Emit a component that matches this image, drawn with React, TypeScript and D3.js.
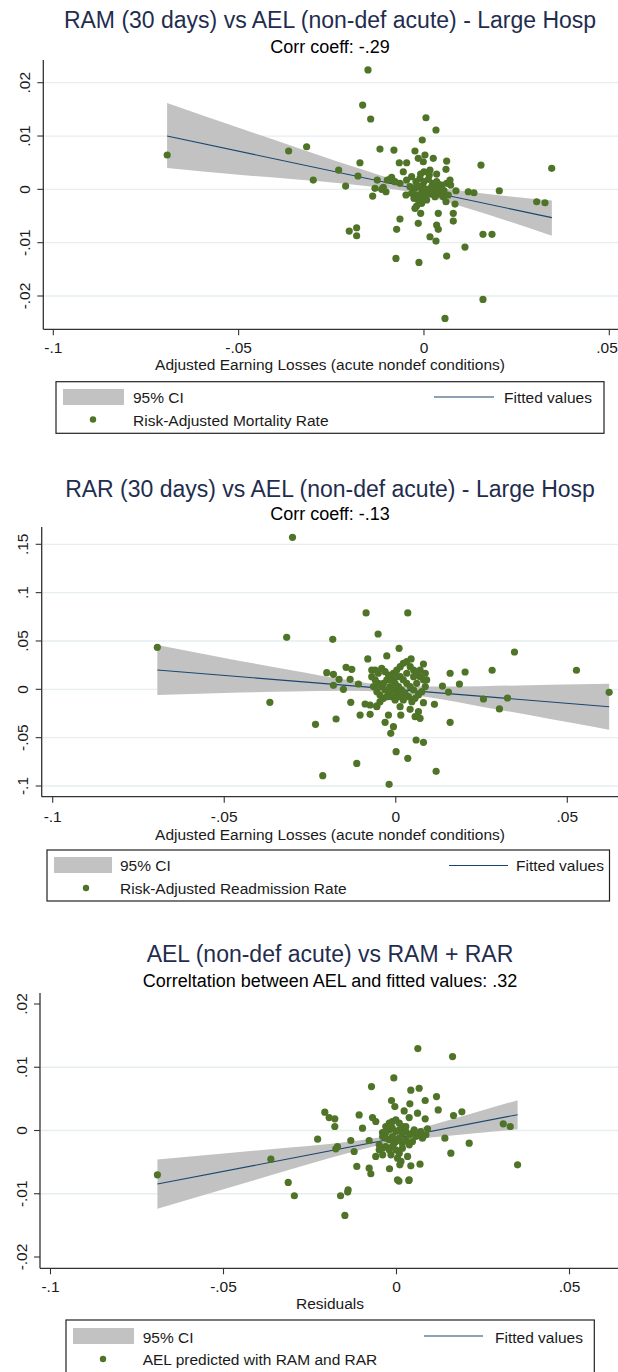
import React from 'react';
import * as d3 from 'd3';

const FONT = '"Liberation Sans", Arial, Helvetica, sans-serif';
const W = 618;
const H = 1372;

// ---------- shared axis ticks ----------
const xTicks = [-0.1, -0.05, 0, 0.05];
const xTickLabels = ['-.1', '-.05', '0', '.05'];

// ---------- Panel 1: RAM vs AEL ----------
const ramTitle = 'RAM (30 days) vs AEL (non-def acute) - Large Hosp';
const ramSubtitle = 'Corr coeff: -.29';
const ramXTitle = 'Adjusted Earning Losses (acute nondef conditions)';
const ramSeries = 'Risk-Adjusted Mortality Rate';
const ramYTicks = [0.02, 0.01, 0, -0.01, -0.02];
const ramYTickLabels = ['.02', '.01', '0', '-.01', '-.02'];
const ramPoints: [number, number][] = [
  [-0.0151, 0.0224], [-0.01654, 0.0158], [-0.01438, 0.01319], [0.00054, 0.01343], [0.00324, 0.01113],
  [-0.00046, 0.00925], [-0.03165, 0.00799], [-0.01187, 0.00756], [-0.0081, 0.00737], [-0.00243, 0.00719],
  [0.00612, 0.00531], [-0.01727, 0.00499], [0.01538, 0.00456], [0.03446, 0.00394], [-0.00666, 0.00499],
  [-0.00467, 0.00499], [0.00027, 0.00644], [0.00251, 0.00581], [-0.00154, 0.00581], [-0.00019, 0.00518],
  [0.00594, 0.00375], [-0.02302, 0.00362], [-0.01781, 0.0025], [-0.00558, 0.0033], [0.00162, 0.00362],
  [0.00342, 0.00287], [0, 0.0033], [-0.02987, 0.00174], [-0.0126, 0.00174], [-0.00917, 0.00187],
  [-0.02113, 0.00062], [-0.01322, 0.00019], [-0.01025, -0.00045], [-0.01384, -0.00126], [0.00702, 0.00174],
  [0.0072, 0.00081], [0.01195, -0.00045], [0.01349, -0.00064], [0.02032, -0.00026], [0.00863, -0.00026],
  [0.03041, -0.00233], [0.03265, -0.00251], [0.00594, -0.00233], [0.00837, -0.00276], [-0.00243, -0.00356],
  [-0.00089, -0.0045], [0.00386, -0.0045], [0.00791, -0.0045], [-0.00648, -0.00557], [0.00791, -0.00595],
  [-0.00154, -0.00638], [0.00342, -0.0067], [0.00386, -0.0075], [-0.00737, -0.0075], [-0.02016, -0.00782],
  [-0.01816, -0.0072], [-0.01816, -0.0087], [0.01592, -0.00844], [0.01835, -0.00844], [0.00162, -0.00889],
  [0.00324, -0.0097], [0.01106, -0.01083], [0.00612, -0.01251], [-0.00756, -0.01295], [-0.00135, -0.0137],
  [0.01592, -0.02064], [0.00567, -0.0242], [-0.06927, 0.00644], [-0.03651, 0.00719],
  [-0.00468, 0.00175], [-0.00333, 0.00238], [-0.00216, 0.00144], [-0.00108, 0.00206], [0, 0.00144],
  [0.00117, 0.00188], [0.00234, 0.00113], [0.00342, 0.00144], [0.00477, 0.00081], [0.00612, 0.00113],
  [-0.00378, 0.0005], [-0.00243, 0.00019], [-0.00126, 0.00063], [-0.00018, 0.00038], [0.00099, 0],
  [0.00207, 0.0005], [0.00324, 0], [0.00432, 0.00019], [0.0054, -0.00025], [-0.00486, -0.00106],
  [-0.00333, -0.00075], [-0.00198, -0.00106], [-0.00063, -0.00063], [0.00054, -0.00106], [0.0018, -0.00088],
  [0.00297, -0.00138], [0.00414, -0.00088], [0.00522, -0.00138], [0.00657, -0.00106], [-0.00153, -0.002],
  [-0.00036, -0.00169], [0.00072, -0.002], [-0.0027, -0.00169], [0.00252, -0.00044], [0.00387, 0.001],
  [-0.0009, 0.00288], [0.00144, 0.00269], [-0.00648, 0.00113], [-0.00783, 0.00144], [-0.00872, 0.00225],
  [-0.00989, 0.00175], [-0.01097, 0.00038], [-0.01142, 0], [-0.00198, -0.00313], [-0.00063, -0.00263],
];
const ramBandX = [-0.0693, -0.05, -0.035, -0.02, -0.003, 0.01, 0.0345];
const ramBandLo = [0.004, 0.00275, 0.0019, 0.00096, -0.0006, -0.00315, -0.0087];
const ramBandHi = [0.0162, 0.01155, 0.008, 0.00448, 0.001, -0.00027, -0.0021];
const ramFitX = [-0.0693, 0.0345];
const ramFitY = [0.01, -0.0053];

// ---------- Panel 2: RAR vs AEL ----------
const rarTitle = 'RAR (30 days) vs AEL (non-def acute) - Large Hosp';
const rarSubtitle = 'Corr coeff: -.13';
const rarXTitle = 'Adjusted Earning Losses (acute nondef conditions)';
const rarSeries = 'Risk-Adjusted Readmission Rate';
const rarYTicks = [0.15, 0.1, 0.05, 0, -0.05, -0.1];
const rarYTickLabels = ['.15', '.1', '.05', '0', '-.05', '-.1'];
const rarPoints: [number, number][] = [
  [-0.0695, 0.0434], [-0.0318, 0.0538], [-0.0367, -0.01345], [-0.0234, -0.0362], [-0.0301, 0.1572],
  [-0.00865, 0.079], [0.0035, 0.079], [-0.00515, 0.0572], [-0.01837, 0.0517], [0.00097, 0.0424],
  [0.0346, 0.0386], [-0.00262, 0.0345], [-0.00816, 0.0314], [0.00447, 0.0314], [0.00807, 0.0262],
  [-0.01448, 0.0228], [-0.01283, 0.0207], [-0.007, 0.02], [-0.02012, 0.0172], [-0.01817, 0.0155],
  [0.01584, 0.0166], [0.02021, 0.0179], [0.02809, 0.0197], [0.05267, 0.0197], [-0.01652, 0.0103],
  [-0.01331, 0.0103], [-0.01088, 0.0055], [-0.01817, 0.0041], [-0.01526, 0], [0.01856, 0.0055],
  [0.01361, 0.0034], [0.01536, -0.0028], [0.0622, -0.0031], [0.02556, -0.01], [0.03256, -0.009],
  [0.03022, -0.0203], [0.01127, -0.0155], [0.00807, -0.0138], [-0.01312, -0.01345], [-0.00894, -0.0152],
  [-0.00748, -0.0259], [-0.0104, -0.0266], [-0.0174, -0.0307], [0.01584, -0.0341], [-0.00311, -0.0341],
  [-0.00068, -0.0386], [-0.00146, -0.0455], [0.00564, -0.0283], [0.00709, -0.03], [0.00593, -0.0524],
  [0.00807, -0.0548], [0.0001, -0.0645], [0.0035, -0.0714], [-0.01137, -0.0766], [-0.02128, -0.0893],
  [0.01176, -0.0848], [-0.00194, -0.0983], [-0.00748, -0.0162], [-0.00554, -0.0179], [0.00126, -0.0179],
  [0.00418, -0.0207], [-0.00214, -0.0266], [0.00146, -0.0266], [0.00661, -0.0231],
  [-0.007, 0.0131], [-0.006, 0.0097], [-0.0051, 0.0062], [-0.0041, 0.0028], [-0.0031, -0.0007],
  [-0.0021, -0.0041], [-0.0012, -0.0076], [-0.0002, -0.011], [-0.0065, 0.0028], [-0.0055, -0.0024],
  [-0.0046, -0.0059], [-0.0036, -0.0093], [-0.0026, 0.0097], [-0.0017, 0.0131], [-0.0007, 0.0166],
  [0.0003, 0.02], [0.0013, 0.0234], [0.0022, 0.0269], [0.0032, 0.0286], [0.0042, 0.0234],
  [0.0052, 0.02], [0.0061, 0.0166], [0.0071, 0.0131], [0.0081, 0.0097], [0.0086, 0.0028],
  [0.0076, -0.0024], [0.0066, -0.0059], [0.0056, -0.0093], [0.0047, -0.0128], [0.0037, -0.0076],
  [0.0027, -0.0041], [0.0017, -0.0007], [0.0008, 0.0028], [-0.0002, 0.0062], [-0.0012, 0.0097],
  [-0.0021, 0.0148], [-0.0031, 0.0183], [-0.0041, 0.0217], [-0.0051, 0.0166], [-0.006, 0.02],
  [0.0013, 0.0131], [0.0022, 0.0097], [0.0032, 0.0062], [0.0042, 0.0028], [0.0052, -0.0007],
  [0.0061, 0.0062], [0.0022, -0.011], [0.0003, -0.0041], [-0.0017, 0.0028], [-0.0036, 0.0062],
  [-0.0007, -0.0007], [0.0013, -0.0076], [0.0032, 0.0166], [0.0052, 0.0131], [0.0071, 0.02],
  [0.0003, 0.0131], [-0.0026, -0.0076], [-0.0046, -0.0128], [-0.0055, -0.0172], [0.0086, 0.0166],
  [0.009, 0.0097],
];
const rarBandX = [-0.0695, -0.05, -0.03, -0.015, -0.002, 0.01, 0.025, 0.045, 0.0622];
const rarBandLo = [-0.0058, -0.0037, -0.0023, -0.0016, -0.003, -0.0085, -0.0179, -0.0307, -0.0418];
const rarBandHi = [0.0458, 0.0325, 0.0195, 0.0102, 0.004, 0.0028, 0.0033, 0.0047, 0.0058];
const rarFitX = [-0.0695, 0.0622];
const rarFitY = [0.02, -0.018];

// ---------- Panel 3: AEL vs RAM + RAR ----------
const aelTitle = 'AEL (non-def acute) vs RAM + RAR';
const aelSubtitle = 'Correltation between AEL and fitted values: .32';
const aelXTitle = 'Residuals';
const aelSeries = 'AEL predicted with RAM and RAR';
const aelYTicks = [0.02, 0.01, 0, -0.01, -0.02];
const aelYTickLabels = ['.02', '.01', '0', '-.01', '-.02'];
const aelGridTicks = [0.01, 0, -0.01];
const aelPoints: [number, number][] = [
  [-0.0691, -0.007], [-0.0363, -0.00453], [-0.0313, -0.00821], [-0.0228, -0.00137],
  [0.00617, 0.01295], [0.0162, 0.01168], [-0.00077, 0.00832], [-0.00723, 0.00695], [0.00414, 0.00637],
  [0.00655, 0.00668], [0.01157, 0.00537], [0.00829, 0.00474], [-0.00145, 0.00474], [0.00386, 0.00421],
  [-0.00048, 0.00379], [0.01205, 0.00326], [0.00222, 0.0031], [0.00607, 0.00274], [-0.02072, 0.00289],
  [-0.01947, 0.00205], [-0.01783, 0.00184], [-0.01783, 0.00063], [-0.0108, 0.00247], [-0.00694, 0.00205],
  [-0.00598, 0.00142], [0.00366, 0.00205], [0.00829, 0.00184], [0.01648, 0.00237], [0.01889, 0.00295],
  [0.03085, 0.00105], [0.03287, 0.00063], [-0.00983, 0.00037], [0.00896, 0.00026], [-0.01321, -0.00158],
  [-0.01706, -0.00253], [-0.01754, -0.00289], [-0.01224, -0.00332], [-0.0079, -0.00158], [-0.00405, -0.00032],
  [0.01398, -0.00121], [0.02101, -0.002], [0.01571, -0.00358], [0.03499, -0.00542], [-0.01147, -0.00568],
  [-0.0079, -0.00595], [-0.00742, -0.00684], [-0.00202, -0.00605], [0.00096, -0.00542], [0.00414, -0.00558],
  [0.0068, -0.00532], [0.00029, -0.00779], [0.00366, -0.00779], [-0.01398, -0.00937],
  [-0.02952, -0.01032], [-0.01617, -0.01032], [-0.01412, -0.00974], [-0.01492, -0.01342], [0.0007, -0.008],
  [0.00356, -0.00789],
  [-0.0031, 0.00063], [-0.0021, 0.00116], [-0.0012, 0.0014], [-0.0002, 0.00168], [0.0008, 0.00116],
  [0.0017, 0.00063], [-0.0021, 0.00011], [-0.0012, 0.00037], [-0.0002, -0.00016], [0.0008, 0.00011],
  [0.0017, -0.00042], [0.0027, -0.00016], [0.0037, -0.00068], [0.0046, -0.00042], [0.0056, -0.00095],
  [0.0066, -0.00068], [0.0075, -0.00121], [-0.004, -0.00095], [-0.0031, -0.00121], [-0.0021, -0.00147],
  [-0.0012, -0.00095], [-0.0002, -0.00174], [0.0008, -0.00121], [0.0017, -0.002], [0.0027, -0.00147],
  [0.0037, -0.00226], [0.0046, -0.00174], [-0.005, -0.00226], [-0.004, -0.00279], [-0.0031, -0.00253],
  [-0.0021, -0.00305], [-0.0012, -0.00253], [-0.0002, -0.00305], [0.0008, -0.00358], [0.0017, -0.00279],
  [-0.006, -0.0041], [-0.004, -0.00384], [-0.0016, -0.00384], [0.0003, -0.00437], [0.0013, -0.00489],
  [0.0032, -0.0041], [-0.0031, -0.00032], [0.0027, 0.00063], [0.0051, 0.00011], [0.007, -0.00016],
  [0.0085, -0.00068], [-0.005, -0.00305], [-0.0007, -0.002],
];
const aelBandX = [-0.0691, -0.05, -0.03, -0.015, -0.003, 0.01, 0.022, 0.035];
const aelBandLo = [-0.01237, -0.0093, -0.00605, -0.0037, -0.0021, -0.00112, -0.00047, 0.0002];
const aelBandHi = [-0.00457, -0.00362, -0.00265, -0.00184, -0.0009, 0.00084, 0.00273, 0.0048];
const aelFitX = [-0.0691, 0.035];
const aelFitY = [-0.00847, 0.0025];

// ---------- styles ----------
const C_TITLE = '#1f2d4e';
const C_POINT = '#4f7428';
const C_FIT = '#1a476f';
const C_BAND = '#c2c2c2';
const C_GRID = '#e6eef0';
const C_AXIS = '#333333';
const C_TEXT = '#1a1a1a';

type Cfg = {
  axisX: number; top: number; axisY: number;
  xR: [number, number]; yD: [number, number]; yR: [number, number];
  titleY: number; subY: number; tickLabelY: number; axisTitleY: number;
  box: [number, number, number, number];
  rect: [number, number, number, number];
  textX: number; row1: number; row2: number;
  line: [number, number, number]; fittedX: number; dot: [number, number];
};

type PanelProps = {
  cfg: Cfg; points: [number, number][];
  bandX: number[]; bandLo: number[]; bandHi: number[];
  fitX: number[]; fitY: number[];
  yTicks: number[]; yTickLabels: string[]; gridTicks: number[];
  title: string; subtitle: string; xTitle: string; series: string;
};

function Panel(p: PanelProps) {
  const c = p.cfg;
  const x = d3.scaleLinear().domain([-0.1, 0.05]).range(c.xR);
  const y = d3.scaleLinear().domain(c.yD).range(c.yR);
  const band = p.bandX.map((bx, i) => ({ x: bx, lo: p.bandLo[i], hi: p.bandHi[i] }));
  const areaGen = d3.area<{ x: number; lo: number; hi: number }>()
    .x(d => x(d.x)).y0(d => y(d.lo)).y1(d => y(d.hi)).curve(d3.curveMonotoneX);
  const fit = p.fitX.map((fx, i) => [fx, p.fitY[i]] as [number, number]);
  const lineGen = d3.line<[number, number]>().x(d => x(d[0])).y(d => y(d[1]));
  const fs = 15.5;
  return (
    <g>
      <text x={330} y={c.titleY} textAnchor="middle" fontSize={23} fill={C_TITLE} fontFamily={FONT}>{p.title}</text>
      <text x={330} y={c.subY} textAnchor="middle" fontSize={18} fill="#000" fontFamily={FONT}>{p.subtitle}</text>
      {p.gridTicks.map(t => (
        <line key={'g' + t} x1={c.axisX} x2={W} y1={y(t)} y2={y(t)} stroke={C_GRID} strokeWidth={1.3} />
      ))}
      <path d={areaGen(band) || ''} fill={C_BAND} />
      <path d={lineGen(fit) || ''} fill="none" stroke={C_FIT} strokeWidth={1.1} />
      {p.points.map((d, i) => (
        <circle key={i} cx={x(d[0])} cy={y(d[1])} r={3.6} fill={C_POINT} />
      ))}
      <line x1={c.axisX} x2={c.axisX} y1={c.top} y2={c.axisY} stroke={C_AXIS} strokeWidth={1.3} />
      <line x1={c.axisX} x2={W} y1={c.axisY} y2={c.axisY} stroke={C_AXIS} strokeWidth={1.3} />
      {p.yTicks.map((t, i) => (
        <g key={'y' + t}>
          <line x1={c.axisX - 6} x2={c.axisX} y1={y(t)} y2={y(t)} stroke={C_AXIS} strokeWidth={1.1} />
          <text transform={`translate(${c.axisX - 13.5},${y(t)}) rotate(-90)`} textAnchor="middle"
            fontSize={fs} fill={C_TEXT} fontFamily={FONT}>{p.yTickLabels[i]}</text>
        </g>
      ))}
      {xTicks.map((t, i) => (
        <g key={'x' + t}>
          <line x1={x(t)} x2={x(t)} y1={c.axisY} y2={c.axisY + 6} stroke={C_AXIS} strokeWidth={1.1} />
          <text x={Math.min(x(t), W - 11)} y={c.tickLabelY} textAnchor="middle" fontSize={fs} fill={C_TEXT} fontFamily={FONT}>{xTickLabels[i]}</text>
        </g>
      ))}
      <text x={330} y={c.axisTitleY} textAnchor="middle" fontSize={fs} fill={C_TEXT} fontFamily={FONT}>{p.xTitle}</text>
      <rect x={c.box[0]} y={c.box[1]} width={c.box[2] - c.box[0]} height={c.box[3] - c.box[1]}
        fill="#fff" stroke="#222" strokeWidth={1.2} />
      <rect x={c.rect[0]} y={c.rect[1]} width={c.rect[2] - c.rect[0]} height={c.rect[3] - c.rect[1]} fill={C_BAND} />
      <text x={c.textX} y={c.row1} fontSize={fs} fill={C_TEXT} fontFamily={FONT}>95% CI</text>
      <line x1={c.line[0]} x2={c.line[1]} y1={c.line[2]} y2={c.line[2]} stroke={C_FIT} strokeWidth={1.2} />
      <text x={c.fittedX} y={c.row1} fontSize={fs} fill={C_TEXT} fontFamily={FONT}>Fitted values</text>
      <circle cx={c.dot[0]} cy={c.dot[1]} r={3.2} fill={C_POINT} />
      <text x={c.textX} y={c.row2} fontSize={fs} fill={C_TEXT} fontFamily={FONT}>{p.series}</text>
    </g>
  );
}

const cfg1: Cfg = {
  axisX: 43.3, top: 60, axisY: 329.3, xR: [53.3, 609.3], yD: [-0.02, 0.02], yR: [296, 82.7],
  titleY: 28, subY: 53, tickLabelY: 353, axisTitleY: 370,
  box: [56, 381.7, 604, 433.3], rect: [63, 389, 124, 405], textX: 133, row1: 403, row2: 426,
  line: [434, 494, 397], fittedX: 504, dot: [93, 419.5],
};
const cfg2: Cfg = {
  axisX: 41.7, top: 527, axisY: 796.7, xR: [52.7, 567.3], yD: [-0.1, 0.15], yR: [786, 544.3],
  titleY: 497, subY: 520, tickLabelY: 822, axisTitleY: 840,
  box: [47, 850, 609.5, 901], rect: [54, 857, 112, 873], textX: 120, row1: 871, row2: 894,
  line: [449, 508, 865.5], fittedX: 516, dot: [86, 888],
};
const cfg3: Cfg = {
  axisX: 40, top: 993, axisY: 1268.3, xR: [50.5, 569.5], yD: [-0.02, 0.02], yR: [1257, 1004],
  titleY: 962, subY: 987, tickLabelY: 1292, axisTitleY: 1309,
  box: [66, 1320, 594.3, 1374], rect: [73, 1328, 134, 1344], textX: 142.7, row1: 1342.7, row2: 1365,
  line: [424, 483, 1336], fittedX: 495, dot: [103, 1359],
};

export default function App() {
  return (
    <svg width={W} height={H} viewBox={`0 0 ${W} ${H}`}
      style={{ position: 'absolute', left: 0, top: 0, background: '#fff', display: 'block' }}>
      <rect x={0} y={0} width={W} height={H} fill="#fff" />
      <Panel cfg={cfg1} points={ramPoints} bandX={ramBandX} bandLo={ramBandLo} bandHi={ramBandHi}
        fitX={ramFitX} fitY={ramFitY} yTicks={ramYTicks} yTickLabels={ramYTickLabels} gridTicks={ramYTicks}
        title={ramTitle} subtitle={ramSubtitle} xTitle={ramXTitle} series={ramSeries} />
      <Panel cfg={cfg2} points={rarPoints} bandX={rarBandX} bandLo={rarBandLo} bandHi={rarBandHi}
        fitX={rarFitX} fitY={rarFitY} yTicks={rarYTicks} yTickLabels={rarYTickLabels} gridTicks={rarYTicks}
        title={rarTitle} subtitle={rarSubtitle} xTitle={rarXTitle} series={rarSeries} />
      <Panel cfg={cfg3} points={aelPoints} bandX={aelBandX} bandLo={aelBandLo} bandHi={aelBandHi}
        fitX={aelFitX} fitY={aelFitY} yTicks={aelYTicks} yTickLabels={aelYTickLabels} gridTicks={aelGridTicks}
        title={aelTitle} subtitle={aelSubtitle} xTitle={aelXTitle} series={aelSeries} />
    </svg>
  );
}
